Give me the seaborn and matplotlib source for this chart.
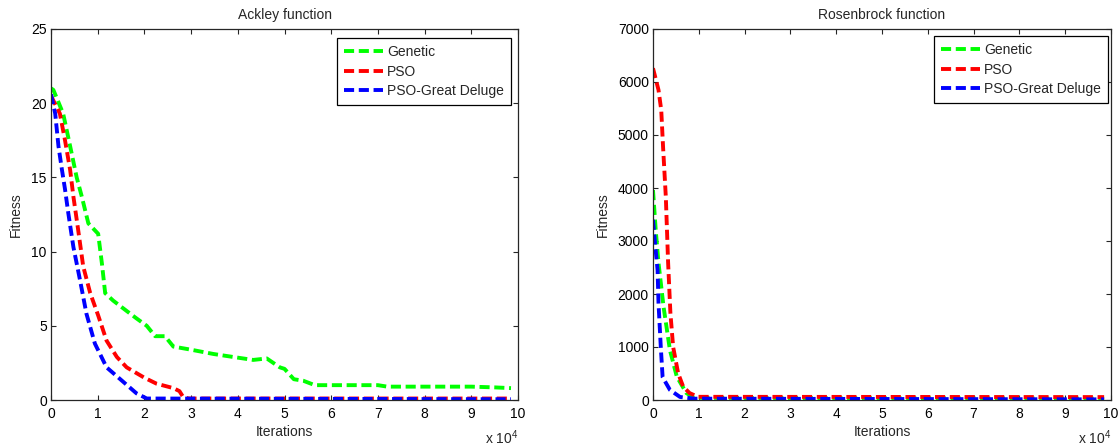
import pandas as pd
import matplotlib
matplotlib.use("Agg")
import matplotlib.pyplot as plt
import seaborn as sns

sns.set_style("ticks")
plt.rcParams["font.family"] = ["Liberation Sans", "DejaVu Sans"]
plt.rcParams["mathtext.default"] = "regular"
plt.rcParams["xtick.direction"] = "in"
plt.rcParams["ytick.direction"] = "in"
plt.rcParams["xtick.top"] = True
plt.rcParams["ytick.right"] = True

methods = ["Genetic", "PSO", "PSO-Great Deluge"]
colors = {"Genetic": "#00FF00", "PSO": "#FF0000", "PSO-Great Deluge": "#0000FF"}

# iterations are in units of 10^4
ackley_ga_x = [0, 0.05, 0.26, 0.41, 0.55, 0.66, 0.8, 0.92, 1.01, 1.09, 1.16, 1.33, 1.62,
               1.83, 2.05, 2.23, 2.44, 2.62, 2.98, 3.48, 3.9, 4.33, 4.62, 4.9, 5.0, 5.2,
               5.4, 5.65, 6.0, 7.0, 7.2, 8.0, 9.0, 9.5, 9.85]
ackley_ga_y = [21.0, 20.9, 19.3, 17.1, 15.0, 13.7, 11.9, 11.5, 11.2, 9.2, 7.2, 6.7, 6.0,
               5.5, 5.0, 4.3, 4.3, 3.6, 3.4, 3.1, 2.9, 2.7, 2.8, 2.2, 2.1, 1.4,
               1.3, 1.0, 1.0, 1.0, 0.9, 0.9, 0.9, 0.85, 0.8]
ackley_pso_x = [0, 0.19, 0.3, 0.41, 0.48, 0.58, 0.69, 0.84, 1.01, 1.19, 1.41, 1.62, 2.0,
                2.26, 2.62, 2.75, 2.83, 2.95, 9.85]
ackley_pso_y = [20.5, 19.3, 17.5, 15.5, 13.7, 11.5, 9.0, 7.2, 5.7, 4.0, 2.9, 2.2, 1.5,
                1.1, 0.8, 0.6, 0.2, 0.1, 0.1]
ackley_gd_x = [0, 0.09, 0.16, 0.23, 0.3, 0.37, 0.48, 0.62, 0.76, 0.94, 1.19, 1.41, 1.83,
               2.05, 9.85]
ackley_gd_y = [20.6, 19.3, 17.1, 15.6, 14.2, 12.6, 10.3, 8.1, 5.8, 3.8, 2.2, 1.6, 0.45,
               0.1, 0.05]

rosen_ga_x = [0, 0.06, 0.12, 0.23, 0.37, 0.52, 0.73, 0.9, 9.85]
rosen_ga_y = [3960, 3200, 2590, 1760, 940, 440, 130, 40, 25]
rosen_pso_x = [0, 0.12, 0.18, 0.22, 0.28, 0.33, 0.38, 0.44, 0.55, 0.66, 0.8, 0.98, 9.85]
rosen_pso_y = [6260, 5850, 5470, 4770, 3830, 2590, 1640, 1000, 500, 250, 130, 60, 55]
rosen_gd_x = [0, 0.05, 0.1, 0.12, 0.17, 0.21, 0.37, 0.59, 0.9, 9.85]
rosen_gd_y = [3400, 2900, 2450, 1830, 1000, 430, 190, 57, 25, 12]

ackley_yticks = [0, 5, 10, 15, 20, 25]
rosen_yticks = [0, 1000, 2000, 3000, 4000, 5000, 6000, 7000]
xticks = list(range(0, 11))


def build_frame(series):
    frames = []
    for name, (x, y) in zip(methods, series):
        frames.append(pd.DataFrame({"iter": x, "fitness": y, "method": name}))
    return pd.concat(frames, ignore_index=True)


def draw_panel(ax, df, title, yticks, legend_anchor):
    sns.lineplot(
        data=df, x="iter", y="fitness", hue="method", style="method",
        palette=colors, dashes={m: (2.6, 1.2) for m in methods},
        linewidth=2.8, estimator=None, sort=False, ax=ax
    )
    ax.set_xlim(0, 10)
    ax.set_ylim(yticks[0], yticks[-1])
    ax.set_xticks(xticks)
    ax.set_yticks(yticks)
    ax.tick_params(labelsize=10, length=3.5, width=0.8, colors="#262626", labelcolor="black")
    ax.tick_params(axis="x", pad=5)
    ax.tick_params(axis="y", pad=3)
    for s in ax.spines.values():
        s.set_color("#262626")
        s.set_linewidth(0.9)
    ax.set_title(title, fontsize=10, pad=7)
    ax.set_xlabel("Iterations", fontsize=10, labelpad=3)
    ax.set_ylabel("Fitness", fontsize=10, labelpad=6)
    ax.annotate("x 10$^4$", xy=(1.0, 0), xycoords="axes fraction",
                xytext=(0, -38), textcoords="offset pixels",
                ha="right", va="center", fontsize=10)
    handles, labels = ax.get_legend_handles_labels()
    ax.legend(handles, labels, loc="upper right", bbox_to_anchor=legend_anchor,
              borderaxespad=0, fontsize=10, frameon=True, fancybox=False,
              edgecolor="black", framealpha=1, handlelength=2.8,
              handletextpad=0.3, labelspacing=0.4, borderpad=0.5)
    ax.get_legend().get_frame().set_linewidth(0.9)


fig = plt.figure(figsize=(11.2, 4.47), dpi=100)
ax1 = fig.add_axes([51 / 1120, 47 / 447, 467 / 1120, 371 / 447])
ax2 = fig.add_axes([653 / 1120, 47 / 447, 458 / 1120, 371 / 447])

ackley = build_frame([(ackley_ga_x, ackley_ga_y), (ackley_pso_x, ackley_pso_y),
                      (ackley_gd_x, ackley_gd_y)])
rosen = build_frame([(rosen_ga_x, rosen_ga_y), (rosen_pso_x, rosen_pso_y),
                     (rosen_gd_x, rosen_gd_y)])

draw_panel(ax1, ackley, "Ackley function", ackley_yticks, (1 - 7 / 467, 1 - 9 / 371))
draw_panel(ax2, rosen, "Rosenbrock function", rosen_yticks, (1 - 3 / 458, 1 - 7 / 371))

fig.savefig("out.png", dpi=100)
